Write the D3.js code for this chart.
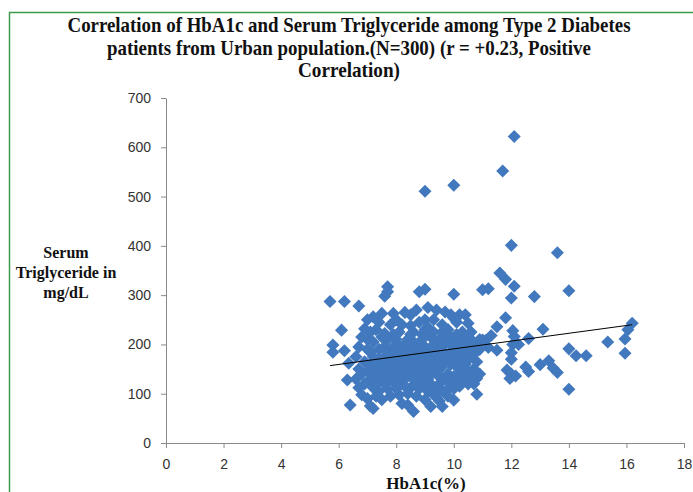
<!doctype html>
<html>
<head>
<script src="https://d3js.org/d3.v7.min.js"></script>
<style>
  body { margin: 0; background: #fff; }
  .tick text { font-family: "Liberation Sans", Arial, sans-serif; font-size: 14px; fill: #333; }
  .ttl { font-family: "Liberation Serif", "Times New Roman", serif; font-weight: bold; fill: #111; }
</style>
</head>
<body>
<svg width="693" height="492"></svg>
<script>
// chart text
var titleLines = [
  "Correlation of HbA1c and Serum Triglyceride among Type 2 Diabetes",
  "patients from Urban population.(N=300) (r = +0.23, Positive",
  "Correlation)"
];
var yTitleLines = ["Serum", "Triglyceride in", "mg/dL"];
var xTitle = "HbA1c(%)";

var xTicks = [0, 2, 4, 6, 8, 10, 12, 14, 16, 18];
var yTicks = [0, 100, 200, 300, 400, 500, 600, 700];

// linear trend line (HbA1c, TG)
var trendLine = [[5.7, 157], [16.2, 240]];

// scattered points away from the main cloud: [HbA1c, TG]
var tailPoints = [
  [5.7, 287], [6.2, 287], [6.7, 278], [6.1, 229], [5.8, 199], [5.8, 184],
  [6.2, 187], [6.35, 162], [6.3, 128], [6.4, 77],
  [9.0, 511], [10.0, 523], [11.7, 552], [12.1, 622], [12.0, 401], [13.6, 386],
  [11.6, 345], [11.8, 332], [12.1, 318], [11.0, 311], [11.2, 313], [12.0, 294],
  [12.8, 297], [14.0, 309], [11.8, 254], [11.5, 236], [11.3, 218], [13.1, 231],
  [12.05, 228], [12.1, 216], [12.6, 212], [11.0, 209], [11.1, 208], [11.5, 188],
  [11.2, 194], [12.05, 200], [12.25, 200], [12.0, 183], [12.0, 170], [11.85, 148],
  [12.0, 140], [12.15, 136], [11.95, 131], [12.5, 154], [12.6, 145], [13.0, 159],
  [13.3, 167], [13.45, 152], [13.6, 143], [14.0, 191], [14.25, 177], [14.6, 177],
  [14.0, 109], [15.35, 205], [16.2, 243], [16.05, 230], [15.95, 211], [15.95, 182]
];

// main cloud, read column by column: [HbA1c, [TG values]]
var cloudColumns = [
  [6.6, [130, 175]],
  [6.7, [195, 150, 112]],
  [6.8, [215, 140, 98]],
  [6.9, [232, 165, 120]],
  [7.0, [250, 190, 145, 90, 210]],
  [7.1, [75, 225, 160, 130, 185]],
  [7.2, [70, 256, 205, 150, 112, 175]],
  [7.3, [230, 120, 160, 95, 140]],
  [7.4, [245, 190, 150, 125, 170, 105]],
  [7.5, [263, 215, 135, 158, 88]],
  [7.6, [298, 222, 175, 145, 120, 196]],
  [7.7, [317, 307, 185, 160, 130, 210, 110]],
  [7.8, [240, 170, 140, 150, 95]],
  [7.9, [263, 220, 185, 125, 195]],
  [8.0, [250, 175, 160, 135, 110, 210]],
  [8.1, [198, 145, 120, 165, 225, 98]],
  [8.2, [240, 190, 155, 128, 170, 80]],
  [8.3, [265, 180, 140, 115, 200, 150]],
  [8.4, [77, 210, 165, 135, 100, 185]],
  [8.5, [238, 195, 148, 112, 220, 260]],
  [8.6, [64, 205, 175, 130, 155, 225]],
  [8.7, [270, 190, 140, 120, 160, 95]],
  [8.8, [307, 245, 200, 175, 150, 110]],
  [8.9, [220, 185, 160, 125, 140, 210]],
  [9.0, [312, 250, 195, 170, 145, 115, 230, 88]],
  [9.1, [275, 235, 180, 155, 130, 105]],
  [9.2, [74, 215, 190, 165, 140, 120]],
  [9.3, [250, 200, 175, 150, 98, 225]],
  [9.4, [270, 185, 160, 110, 140, 205]],
  [9.5, [210, 170, 135, 120, 190, 85]],
  [9.6, [74, 240, 195, 155, 225, 105]],
  [9.7, [266, 220, 180, 130, 165]],
  [9.8, [205, 175, 140, 110, 230, 95]],
  [9.9, [260, 215, 160, 185, 125]],
  [10.0, [302, 253, 195, 170, 135, 110, 87]],
  [10.1, [245, 210, 180, 155, 125, 220]],
  [10.2, [260, 190, 165, 140, 115]],
  [10.3, [205, 175, 150, 128, 225]],
  [10.4, [260, 215, 185, 135, 160]],
  [10.5, [243, 200, 170, 145, 120]],
  [10.6, [225, 190, 135, 210]],
  [10.7, [180, 150, 120]],
  [10.8, [131, 99, 200, 165]],
  [10.9, [210, 140, 190]]
];

var points = tailPoints.slice();
cloudColumns.forEach(function(c) {
  c[1].forEach(function(v) { points.push([c[0], v]); });
});

var svg = d3.select("svg");

var x = d3.scaleLinear().domain([0, 18]).range([166, 684]);
var y = d3.scaleLinear().domain([0, 700]).range([443, 98]);

// green frame (left + top edges visible)
svg.append("rect")
   .attr("x", 9.5).attr("y", 12.5)
   .attr("width", 720).attr("height", 520)
   .attr("fill", "none")
   .attr("stroke", "#3d9a4b")
   .attr("stroke-width", 1.5);

// axes
svg.append("g")
   .attr("transform", "translate(0,443)")
   .call(d3.axisBottom(x).tickValues(xTicks).tickSize(5).tickSizeOuter(0).tickPadding(11));
svg.append("g")
   .attr("transform", "translate(166,0)")
   .call(d3.axisLeft(y).tickValues(yTicks).tickSize(5).tickSizeOuter(0).tickPadding(10));
svg.selectAll(".domain, .tick line").attr("stroke", "#8a8a8a");

// points
svg.append("g").selectAll("path")
   .data(points)
   .enter().append("path")
   .attr("d", d3.symbol().type(d3.symbolSquare).size(85))
   .attr("transform", function(d) { return "translate(" + x(d[0]) + "," + y(d[1]) + ") rotate(45)"; })
   .attr("fill", "#4279be");

// trend line
svg.append("line")
   .attr("x1", x(trendLine[0][0])).attr("y1", y(trendLine[0][1]))
   .attr("x2", x(trendLine[1][0])).attr("y2", y(trendLine[1][1]))
   .attr("stroke", "#000").attr("stroke-width", 1);

// title
var titleWidths = [563, 484, 102];
svg.append("g").selectAll("text")
   .data(titleLines)
   .enter().append("text")
   .attr("class", "ttl")
   .attr("x", 349)
   .attr("y", function(d, i) { return 32 + i * 22.5; })
   .attr("text-anchor", "middle")
   .attr("font-size", 21)
   .attr("textLength", function(d, i) { return titleWidths[i]; })
   .attr("lengthAdjust", "spacingAndGlyphs")
   .text(function(d) { return d; });

// y axis title
svg.append("g").selectAll("text")
   .data(yTitleLines)
   .enter().append("text")
   .attr("class", "ttl")
   .attr("x", 66)
   .attr("y", function(d, i) { return 258 + i * 20; })
   .attr("text-anchor", "middle")
   .attr("font-size", 16)
   .text(function(d) { return d; });

// x axis title
svg.append("text")
   .attr("class", "ttl")
   .attr("x", 426)
   .attr("y", 489)
   .attr("text-anchor", "middle")
   .attr("font-size", 17)
   .text(xTitle);
</script>
</body>
</html>
